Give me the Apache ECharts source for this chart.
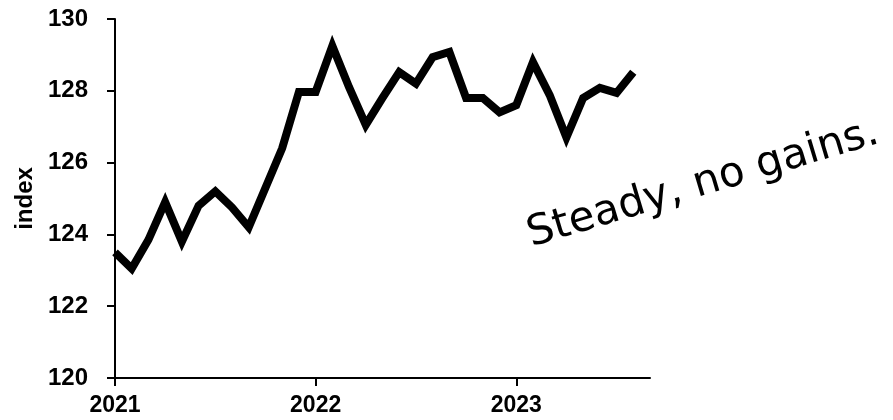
<!DOCTYPE html>
<html>
<head>
<meta charset="utf-8">
<script src="https://cdn.jsdelivr.net/npm/echarts@6/dist/echarts.min.js"></script>
<style>
  html, body { margin: 0; padding: 0; background: #fff; }
  #chart { width: 893px; height: 420px; }
</style>
</head>
<body>
<div id="chart"></div>
<script>
// months on the x axis, Jan 2021 .. Sep 2023 (Sep has no value)
const months = [
  '2021-01', '2021-02', '2021-03', '2021-04', '2021-05', '2021-06',
  '2021-07', '2021-08', '2021-09', '2021-10', '2021-11', '2021-12',
  '2022-01', '2022-02', '2022-03', '2022-04', '2022-05', '2022-06',
  '2022-07', '2022-08', '2022-09', '2022-10', '2022-11', '2022-12',
  '2023-01', '2023-02', '2023-03', '2023-04', '2023-05', '2023-06',
  '2023-07', '2023-08', '2023-09'
]
const indexValues = [
  123.5, 123.05, 123.85, 124.9, 123.8, 124.8, 125.2, 124.75, 124.2, 125.3, 126.4, 127.97,
  127.97, 129.25, 128.1, 127.05, 127.8, 128.52, 128.2, 128.94, 129.08, 127.8, 127.8, 127.4,
  127.6, 128.8, 127.88, 126.7, 127.8, 128.08, 127.94, 128.52, null
]
const yTicks = { min: 120, max: 130, step: 2 }
const note = 'Steady, no gains.'

const chart = echarts.init(document.getElementById('chart'))

const isYearStart = (i) => months[i].slice(5) === '01'

chart.setOption({
  animation: false,
  grid: { left: 115, right: 243, top: 19, bottom: 42 },
  xAxis: {
    type: 'category',
    data: months,
    boundaryGap: false,
    axisLine: { lineStyle: { color: '#000', width: 2 } },
    axisTick: {
      interval: (i) => isYearStart(i),
      length: 8,
      lineStyle: { color: '#000', width: 2 }
    },
    axisLabel: {
      interval: (i) => isYearStart(i),
      formatter: (v) => v.slice(0, 4),
      color: '#000',
      fontFamily: 'Liberation Sans',
      fontWeight: 'bold',
      fontSize: 23,
      margin: 16
    },
    splitLine: { show: false }
  },
  yAxis: {
    type: 'value',
    min: yTicks.min,
    max: yTicks.max,
    interval: yTicks.step,
    name: 'index',
    nameLocation: 'middle',
    nameGap: 78,
    nameTextStyle: {
      color: '#000',
      fontFamily: 'Liberation Sans',
      fontWeight: 'bold',
      fontSize: 24
    },
    axisLine: { show: true, lineStyle: { color: '#000', width: 2 } },
    axisTick: { show: true, length: 8, lineStyle: { color: '#000', width: 2 } },
    axisLabel: {
      color: '#000',
      fontFamily: 'Liberation Sans',
      fontWeight: 'bold',
      fontSize: 24,
      margin: 27
    },
    splitLine: { show: false }
  },
  series: [{
    type: 'line',
    data: indexValues,
    symbol: 'none',
    lineStyle: { color: '#000', width: 8, join: 'miter' }
  }],
  graphic: [{
    type: 'text',
    x: 703,
    y: 184,
    rotation: 0.29,
    style: {
      text: note,
      fill: '#000',
      fontFamily: 'DejaVu Sans',
      fontSize: 42,
      align: 'center',
      verticalAlign: 'middle'
    }
  }]
})
</script>
</body>
</html>
